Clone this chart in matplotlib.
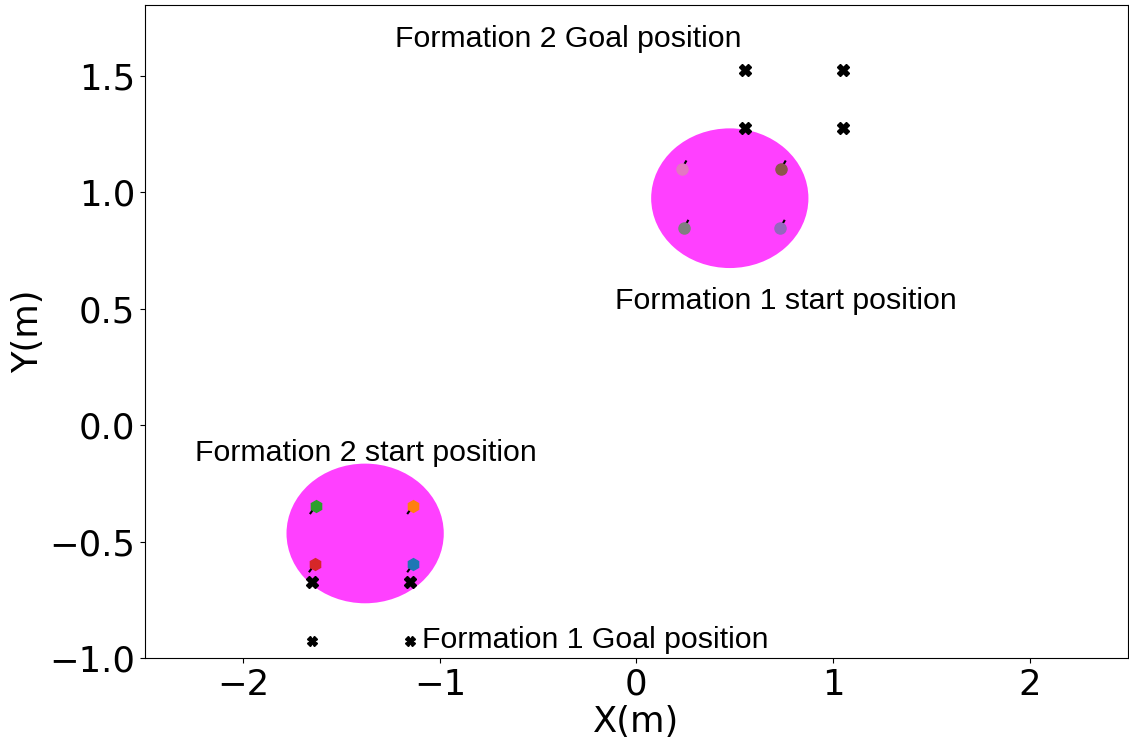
import matplotlib.pyplot as plt
from matplotlib.patches import Ellipse

# goal positions of both formations
goal1_x = [-1.65, -1.15, -1.65, -1.15]
goal1_y = [-0.675, -0.675, -0.925, -0.925]
goal2_x = [0.55, 1.05, 0.55, 1.05]
goal2_y = [1.525, 1.525, 1.275, 1.275]

# robot start positions (formation 1 / formation 2)
start1_x = [0.73, 0.735, 0.23, 0.24]
start1_y = [0.845, 1.10, 1.10, 0.845]
start1_col = ['tab:purple', 'tab:brown', 'tab:pink', 'tab:gray']
start2_x = [-1.135, -1.135, -1.63, -1.635]
start2_y = [-0.595, -0.345, -0.345, -0.595]
start2_col = ['tab:blue', 'tab:orange', 'tab:green', 'tab:red']

# first step of each trajectory
step1_dx, step1_dy = 0.022, 0.033
step2_dx, step2_dy = -0.028, -0.033

# start regions
region_c = [(0.475, 0.975), (-1.38, -0.465)]
region_w, region_h = 0.8, 0.6

fig = plt.figure(figsize=(11.29, 7.42), dpi=100)
ax = fig.add_axes([0.1284, 0.1132, 0.8706, 0.8801])

for c in region_c:
    ax.add_patch(Ellipse(c, region_w, region_h, color='magenta', alpha=0.75, lw=0, zorder=1))

for x, y in zip(start1_x, start1_y):
    ax.plot([x, x + step1_dx], [y, y + step1_dy], color='k', lw=1.5, zorder=2)
for x, y in zip(start2_x, start2_y):
    ax.plot([x, x + step2_dx], [y, y + step2_dy], color='k', lw=1.5, zorder=2)

for x, y, c in zip(start1_x, start1_y, start1_col):
    ax.plot(x, y, 'o', color=c, ms=8, zorder=3)
for x, y, c in zip(start2_x, start2_y, start2_col):
    ax.plot(x, y, 'h', color=c, ms=8.5, zorder=3)

ax.plot(goal2_x, goal2_y, 'X', color='k', ms=9, ls='none', zorder=4)
ax.plot(goal1_x[:2], goal1_y[:2], 'X', color='k', ms=9, ls='none', zorder=4)
ax.plot(goal1_x[2:], goal1_y[2:], 'X', color='k', ms=7, ls='none', zorder=4)

tf = dict(fontsize=21.8, family='Liberation Sans', ha='left', va='baseline')
ax.text(-1.23, 1.625, 'Formation 2 Goal position', **tf)
ax.text(-0.11, 0.5, 'Formation 1 start position', **tf)
ax.text(-2.245, -0.155, 'Formation 2 start position', **tf)
ax.text(-1.09, -0.958, 'Formation 1 Goal position', **tf)

ax.set_xlim(-2.5, 2.5)
ax.set_ylim(-1.0, 1.805)
ax.set_xticks([-2, -1, 0, 1, 2])
ax.set_yticks([-1.0, -0.5, 0.0, 0.5, 1.0, 1.5])
ax.tick_params(labelsize=25.5)
ax.set_xlabel('X(m)', fontsize=25.5, labelpad=2)
ax.set_ylabel('Y(m)', fontsize=25.5, labelpad=3)

fig.savefig('out.png', dpi=100)
